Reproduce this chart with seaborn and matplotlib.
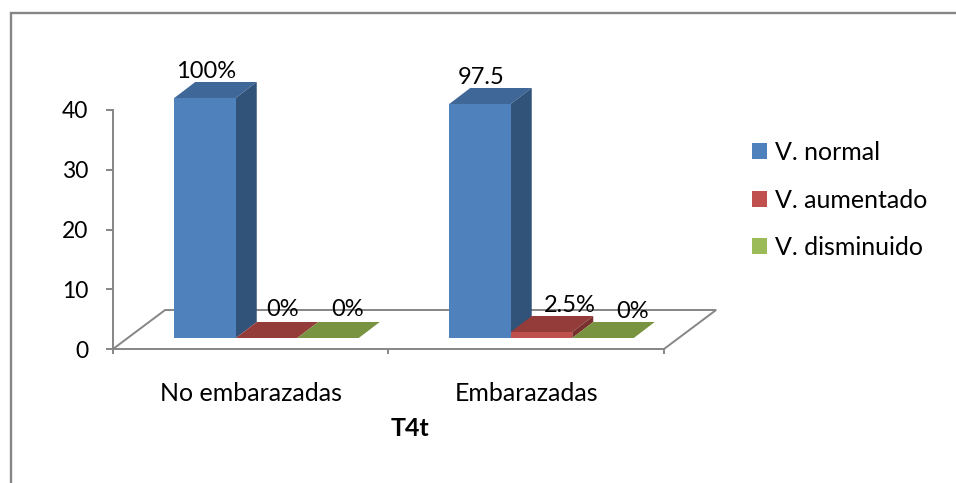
import matplotlib
matplotlib.use("Agg")
import matplotlib.pyplot as plt
from matplotlib.lines import Line2D
from matplotlib.patches import Polygon
import pandas as pd
import seaborn as sns

# Data
categories = ["No embarazadas", "Embarazadas"]
series_names = ["V. normal", "V. aumentado", "V. disminuido"]
normal_values = [40, 39]
aumentado_values = [0, 1]
disminuido_values = [0, 0]
normal_labels = ["100%", "97.5"]
aumentado_labels = ["0%", "2.5%"]
disminuido_labels = ["0%", "0%"]
y_ticks = [0, 10, 20, 30, 40]
axis_title = "T4t"

# Style
W, H = 956, 483
FONT = "Lato"
GREY = "#868686"
FRONT = ["#4f81bd", "#c0504d", "#9bbb59"]
TOP = ["#3f6797", "#943c39", "#789440"]
SIDE = ["#315279", "#7a302e", "#627a35"]
BAR_DEPTH = (21, 16)      # pixels
FLOOR_DEPTH = (52, 39)    # pixels
# label offset from the top of each bar's front face, in pixels
LABEL_OFFSETS = [[(1, 27), (1, 27)], [(16, 28), (28, 27)], [(20, 28), (30, 27)]]

sns.set_theme(style="white")
plt.rcParams["font.family"] = [FONT, "DejaVu Sans"]

fig = plt.figure(figsize=(W / 100, H / 100), dpi=100, facecolor="white")


def axes_px(left, right, top, bottom):
    return fig.add_axes([left / W, 1 - bottom / H, (right - left) / W, (bottom - top) / H])


# Outer chart frame (only the left and top edges are visible)
fig.add_artist(Line2D([11 / W, 11 / W, 1], [0, 1 - 13 / H, 1 - 13 / H], color=GREY, lw=1.7,
                      solid_joinstyle="miter"))

# Axis frame: the value axis, the category axis and the floor outline
frame = axes_px(113, 664, 110, 349)
frame.set_xlim(0, 2)
frame.set_ylim(0, 40)
frame.patch.set_alpha(0)
for name in ("top", "right"):
    frame.spines[name].set_visible(False)
for name in ("left", "bottom"):
    frame.spines[name].set_color(GREY)
    frame.spines[name].set_linewidth(1.4)
frame.set_yticks(y_ticks)
frame.set_xticks([0, 1, 2])
frame.set_xticklabels([])
frame.set_xticks([0.5, 1.5], labels=categories, minor=True)
frame.tick_params(axis="y", which="major", left=True, length=5, width=1.4, color=GREY,
                  labelsize=16.5, pad=13, labelcolor="black")
frame.tick_params(axis="x", which="major", bottom=True, length=3.5, width=1.4, color=GREY)
frame.tick_params(axis="x", which="minor", bottom=False, labelsize=18, pad=20, labelcolor="black")

fx = FLOOR_DEPTH[0] / 275
fy = FLOOR_DEPTH[1] / (239 / 40)
frame.plot([0, fx, 2 + fx, 2], [0, fy, fy, 0], color=GREY, lw=1.4, clip_on=False,
           solid_joinstyle="miter", zorder=1)

# Front faces of the bars, aligned so that the zero level sits on the floor
ax = axes_px(129, 679, 68, 338)
table = pd.DataFrame({
    "categoria": categories * 3,
    "serie": [s for s in series_names for _ in categories],
    "valor": normal_values + aumentado_values + disminuido_values,
})
sns.barplot(data=table, x="categoria", y="valor", hue="serie", order=categories,
            hue_order=series_names, palette=FRONT, saturation=1, width=0.671, gap=0,
            linewidth=0, ax=ax, zorder=5)
ax.set_xlim(-0.5, 1.5)
ax.set_ylim(0, 45)
ax.patch.set_alpha(0)
ax.axis("off")

# Depth faces and value labels, built from each drawn bar
dx = BAR_DEPTH[0] * 2 / 550
dy = BAR_DEPTH[1] * 45 / 270
labels = [normal_labels, aumentado_labels, disminuido_labels]
for s, container in enumerate(ax.containers):
    for c, bar in enumerate(container):
        x0, x1, h = bar.get_x(), bar.get_x() + bar.get_width(), bar.get_height()
        ax.add_patch(Polygon([(x0, h), (x1, h), (x1 + dx, h + dy), (x0 + dx, h + dy)],
                             facecolor=TOP[s], edgecolor="none", clip_on=False, zorder=4))
        if h > 0:
            ax.add_patch(Polygon([(x1, 0), (x1, h), (x1 + dx, h + dy), (x1 + dx, dy)],
                                 facecolor=SIDE[s], edgecolor="none", clip_on=False, zorder=4))
        off = LABEL_OFFSETS[s][c]
        ax.annotate(labels[s][c], xy=((x0 + x1) / 2, h), xytext=(off[0] * 0.72, off[1] * 0.72),
                    textcoords="offset points", ha="center", va="center", fontsize=17,
                    color="black", annotation_clip=False, zorder=6)

# Legend
handles, names = ax.get_legend_handles_labels()
ax.legend(handles, names, loc="center left", bbox_to_anchor=(752 / W, 1 - 200 / H),
          bbox_transform=fig.transFigure, frameon=False, fontsize=18, handlelength=0.6,
          handleheight=0.6, handletextpad=0.32, labelspacing=0.98, labelcolor="black",
          borderpad=0, borderaxespad=0)

fig.text(410 / W, 1 - 428 / H, axis_title, ha="center", va="center", fontsize=18,
         fontweight="bold", color="black")

fig.savefig("out.png", dpi=100, facecolor="white")
